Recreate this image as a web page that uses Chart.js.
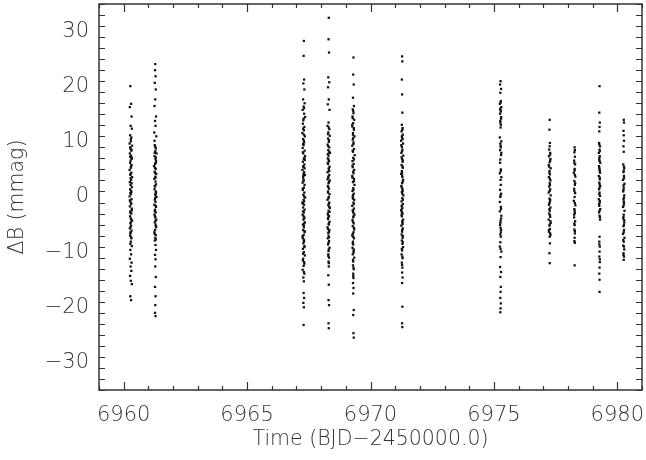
<!DOCTYPE html>
<html>
<head>
<meta charset="utf-8">
<script src="https://cdn.jsdelivr.net/npm/chart.js@4.4.1/dist/chart.umd.min.js"></script>
<style>
  html, body { margin: 0; padding: 0; background: #fff; }
  #wrap { width: 646px; height: 460px; }
</style>
</head>
<body>
<div id="wrap"><canvas id="chart" width="646" height="460"></canvas></div>
<script>
// axis ticks
const xTicks = [6960, 6965, 6970, 6975, 6980];
const yTicks = [-30, -20, -10, 0, 10, 20, 30];

// photometry, one array per night: [BJD-2450000, dB in mmag]
const night6960 = [[6960.27,20.1],[6960.30,16.9],[6960.25,16.3],[6960.32,14.6],[6960.28,12.9],[6960.33,12.4],[6960.26,11.2],[6960.31,10.8],[6960.29,10.1],[6960.24,9.7],[6960.34,9.3],[6960.27,8.8],[6960.31,8.4],[6960.25,7.9],[6960.30,7.5],[6960.33,7.1],[6960.28,6.6],[6960.26,6.2],[6960.32,5.8],[6960.29,5.3],[6960.24,4.9],[6960.31,4.4],[6960.27,4.0],[6960.34,3.6],[6960.30,3.1],[6960.25,2.7],[6960.28,2.2],[6960.33,1.8],[6960.26,1.4],[6960.31,0.9],[6960.29,0.5],[6960.24,0.1],[6960.32,-0.4],[6960.27,-0.8],[6960.30,-1.3],[6960.25,-1.7],[6960.33,-2.1],[6960.28,-2.6],[6960.31,-3.0],[6960.26,-3.5],[6960.29,-3.9],[6960.34,-4.3],[6960.27,-4.8],[6960.30,-5.2],[6960.25,-5.7],[6960.32,-6.1],[6960.28,-6.6],[6960.26,-7.0],[6960.31,-7.5],[6960.29,-8.1],[6960.33,-8.9],[6960.27,-9.6],[6960.30,-10.4],[6960.25,-11.2],[6960.32,-11.9],[6960.28,-12.6],[6960.31,-13.4],[6960.26,-14.3],[6960.29,-15.2],[6960.33,-15.8],[6960.27,-18.0],[6960.30,-18.7],[6960.26,9.0],[6960.32,6.9],[6960.28,3.4],[6960.30,1.1],[6960.25,-0.6],[6960.33,-2.4],[6960.29,-4.6],[6960.27,-6.4],
  [6960.29,10.5],[6960.31,8.6],[6960.26,7.3],[6960.30,5.6],[6960.28,4.2],[6960.32,2.5],[6960.27,0.7],[6960.30,-1.1],[6960.26,-2.8],[6960.31,-4.1],[6960.28,-5.5],[6960.30,-7.3],[6960.27,-8.5]];
const night6961 = [[6961.28,24.1],[6961.27,23.0],[6961.29,21.9],[6961.26,20.7],[6961.30,19.5],[6961.28,17.7],[6961.25,16.5],[6961.31,14.6],[6961.27,13.8],[6961.29,12.9],[6961.24,11.7],[6961.32,11.0],[6961.26,9.4],[6961.30,8.8],[6961.28,8.3],[6961.33,7.9],[6961.25,7.4],[6961.29,6.9],[6961.31,6.5],[6961.27,6.0],[6961.23,5.6],[6961.30,5.1],[6961.26,4.6],[6961.32,4.2],[6961.28,3.7],[6961.24,3.3],[6961.29,2.8],[6961.31,2.3],[6961.27,1.9],[6961.25,1.4],[6961.30,1.0],[6961.28,0.5],[6961.33,0.0],[6961.26,-0.5],[6961.29,-0.9],[6961.24,-1.4],[6961.31,-1.8],[6961.27,-2.3],[6961.30,-2.8],[6961.25,-3.2],[6961.28,-3.7],[6961.32,-4.1],[6961.26,-4.6],[6961.29,-5.0],[6961.31,-5.5],[6961.27,-6.0],[6961.24,-6.4],[6961.30,-6.9],[6961.28,-7.4],[6961.26,-7.9],[6961.29,-8.7],[6961.31,-9.6],[6961.27,-10.5],[6961.29,-11.3],[6961.28,-12.6],[6961.30,-14.5],[6961.27,-16.3],[6961.29,-18.0],[6961.28,-19.6],[6961.27,-21.0],[6961.29,-21.6],[6961.25,10.2],[6961.30,7.2],[6961.27,4.4],[6961.29,0.3],[6961.26,-2.6],[6961.31,-5.3],
  [6961.28,9.1],[6961.26,8.0],[6961.30,6.2],[6961.27,5.3],[6961.29,3.5],[6961.26,2.0],[6961.31,0.8],[6961.28,-0.2],[6961.30,-1.6],[6961.27,-3.5],[6961.29,-4.3],[6961.26,-6.7],[6961.30,-7.7]];
const night6967 = [[6967.30,28.3],[6967.29,25.6],[6967.31,21.3],[6967.28,20.6],[6967.32,19.5],[6967.27,17.7],[6967.33,17.0],[6967.29,16.4],[6967.25,15.8],[6967.31,15.1],[6967.35,14.5],[6967.28,13.9],[6967.26,13.3],[6967.32,12.7],[6967.30,12.1],[6967.24,11.6],[6967.34,11.0],[6967.27,10.5],[6967.31,9.9],[6967.29,9.4],[6967.25,8.9],[6967.33,8.4],[6967.28,7.9],[6967.35,7.4],[6967.30,6.9],[6967.26,6.4],[6967.32,5.9],[6967.28,5.4],[6967.24,4.9],[6967.31,4.5],[6967.34,4.0],[6967.27,3.5],[6967.29,3.1],[6967.25,2.6],[6967.33,2.2],[6967.30,1.7],[6967.26,1.3],[6967.32,0.8],[6967.28,0.4],[6967.35,-0.1],[6967.29,-0.5],[6967.24,-1.0],[6967.31,-1.4],[6967.27,-1.9],[6967.33,-2.3],[6967.30,-2.8],[6967.25,-3.2],[6967.32,-3.7],[6967.28,-4.1],[6967.34,-4.6],[6967.26,-5.0],[6967.30,-5.5],[6967.27,-6.0],[6967.33,-6.4],[6967.29,-6.9],[6967.25,-7.4],[6967.31,-7.9],[6967.28,-8.4],[6967.32,-8.9],[6967.26,-9.4],[6967.30,-10.0],[6967.34,-10.6],[6967.27,-11.2],[6967.31,-11.8],[6967.29,-12.5],[6967.25,-13.2],[6967.32,-13.9],[6967.28,-14.6],[6967.30,-15.3],[6967.29,-17.4],[6967.31,-18.3],[6967.28,-19.2],[6967.30,-20.0],[6967.29,-23.2],[6967.26,8.1],[6967.33,5.2],[6967.29,2.9],[6967.31,0.1],[6967.27,-2.6],[6967.30,-5.2],[6967.25,-7.1],[6967.32,-9.1],[6967.28,3.8],[6967.34,6.7],[6967.26,-1.2],[6967.31,-3.9],
  [6967.30,11.3],[6967.27,9.6],[6967.32,7.1],[6967.29,4.2],[6967.26,1.5],[6967.31,-0.8],[6967.28,-3.4],[6967.33,-6.2],[6967.30,-8.1],[6967.27,-10.3],[6967.32,-12.1],[6967.29,14.2],[6967.31,16.1],[6967.27,12.4],[6967.30,10.2],[6967.28,5.6],[6967.31,-4.8],[6967.29,-7.7],[6967.26,-11.5],[6967.30,-13.6]];
const night6968 = [[6968.31,32.5],[6968.30,28.6],[6968.32,26.2],[6968.29,21.7],[6968.33,20.8],[6968.28,19.9],[6968.31,17.7],[6968.27,16.8],[6968.34,15.8],[6968.30,13.5],[6968.26,12.9],[6968.33,12.3],[6968.29,11.7],[6968.35,11.1],[6968.28,10.6],[6968.31,10.0],[6968.26,9.5],[6968.33,9.0],[6968.29,8.5],[6968.36,8.0],[6968.30,7.5],[6968.27,7.0],[6968.32,6.5],[6968.28,6.0],[6968.34,5.5],[6968.31,5.0],[6968.26,4.5],[6968.33,4.0],[6968.29,3.5],[6968.35,3.0],[6968.30,2.5],[6968.27,2.0],[6968.32,1.5],[6968.28,1.0],[6968.34,0.5],[6968.31,0.0],[6968.26,-0.5],[6968.33,-1.0],[6968.29,-1.5],[6968.35,-2.0],[6968.30,-2.5],[6968.27,-3.0],[6968.32,-3.5],[6968.28,-4.0],[6968.34,-4.5],[6968.31,-5.0],[6968.26,-5.5],[6968.33,-6.0],[6968.29,-6.5],[6968.30,-7.0],[6968.27,-7.5],[6968.32,-8.0],[6968.28,-8.6],[6968.34,-9.2],[6968.30,-9.8],[6968.29,-10.4],[6968.32,-11.0],[6968.30,-11.7],[6968.31,-12.6],[6968.29,-14.2],[6968.31,-15.9],[6968.30,-18.7],[6968.32,-19.6],[6968.30,-22.9],[6968.31,-23.8],[6968.27,7.8],[6968.33,4.7],[6968.29,1.8],[6968.31,-1.2],[6968.28,-3.8],[6968.32,-6.3],[6968.34,-2.7],[6968.26,3.2],
  [6968.31,12.6],[6968.28,11.4],[6968.32,10.3],[6968.29,9.2],[6968.33,8.2],[6968.30,6.8],[6968.27,6.2],[6968.31,5.2],[6968.29,3.7],[6968.32,2.7],[6968.28,0.8],[6968.30,-0.2],[6968.33,-1.8],[6968.29,-3.3],[6968.31,-4.8],[6968.28,-5.8],[6968.32,-7.3],[6968.30,-8.3],[6968.31,-9.5],[6968.29,-10.7],[6968.31,-12.0]];
const night6969 = [[6969.31,25.3],[6969.30,22.2],[6969.32,20.4],[6969.29,18.0],[6969.33,16.5],[6969.28,15.9],[6969.31,15.2],[6969.27,14.6],[6969.34,14.0],[6969.30,13.4],[6969.26,12.8],[6969.33,12.2],[6969.29,11.6],[6969.35,11.0],[6969.28,10.4],[6969.31,9.9],[6969.26,9.3],[6969.33,8.7],[6969.29,8.2],[6969.36,7.6],[6969.30,7.1],[6969.27,6.5],[6969.32,6.0],[6969.28,5.4],[6969.34,4.9],[6969.31,4.3],[6969.26,3.8],[6969.33,3.3],[6969.29,2.7],[6969.35,2.2],[6969.30,1.6],[6969.27,1.1],[6969.32,0.6],[6969.28,0.0],[6969.34,-0.5],[6969.31,-1.0],[6969.26,-1.6],[6969.33,-2.1],[6969.29,-2.6],[6969.35,-3.2],[6969.30,-3.7],[6969.27,-4.2],[6969.32,-4.8],[6969.28,-5.3],[6969.34,-5.9],[6969.31,-6.4],[6969.26,-7.0],[6969.33,-7.5],[6969.29,-8.1],[6969.30,-8.6],[6969.27,-9.2],[6969.32,-9.8],[6969.28,-10.4],[6969.34,-11.0],[6969.30,-11.7],[6969.29,-12.4],[6969.32,-13.1],[6969.30,-13.9],[6969.31,-14.7],[6969.29,-15.6],[6969.31,-16.5],[6969.30,-17.5],[6969.32,-20.5],[6969.30,-21.4],[6969.31,-24.7],[6969.32,-25.5],[6969.27,5.7],[6969.33,2.9],[6969.29,-0.3],[6969.31,-2.9],[6969.28,-6.7],[6969.32,-9.5],[6969.30,10.7],[6969.26,13.1],
  [6969.30,15.6],[6969.28,14.3],[6969.32,12.5],[6969.29,11.3],[6969.31,9.6],[6969.28,8.4],[6969.33,6.8],[6969.30,4.6],[6969.27,3.5],[6969.31,1.3],[6969.29,0.3],[6969.32,-1.3],[6969.28,-2.4],[6969.31,-3.5],[6969.29,-4.5],[6969.33,-5.6],[6969.30,-7.2],[6969.28,-8.4],[6969.31,-10.1],[6969.29,-11.4],[6969.31,-12.8],[6969.30,-14.3]];
const night6971 = [[6971.28,25.5],[6971.29,24.6],[6971.27,21.3],[6971.28,18.6],[6971.29,15.3],[6971.27,13.1],[6971.30,12.5],[6971.26,11.9],[6971.31,11.3],[6971.28,10.8],[6971.24,10.2],[6971.32,9.7],[6971.27,9.1],[6971.29,8.6],[6971.25,8.0],[6971.33,7.5],[6971.28,6.9],[6971.30,6.4],[6971.26,5.8],[6971.31,5.3],[6971.27,4.7],[6971.24,4.2],[6971.29,3.6],[6971.32,3.1],[6971.28,2.5],[6971.25,2.0],[6971.30,1.4],[6971.27,0.9],[6971.33,0.3],[6971.29,-0.2],[6971.26,-0.8],[6971.31,-1.3],[6971.28,-1.9],[6971.24,-2.4],[6971.30,-3.0],[6971.27,-3.5],[6971.32,-4.1],[6971.29,-4.6],[6971.25,-5.2],[6971.31,-5.7],[6971.28,-6.3],[6971.26,-6.8],[6971.30,-7.4],[6971.27,-7.9],[6971.29,-8.5],[6971.32,-9.1],[6971.28,-9.7],[6971.26,-10.4],[6971.30,-11.1],[6971.27,-11.9],[6971.29,-12.8],[6971.28,-13.7],[6971.30,-14.6],[6971.28,-15.6],[6971.29,-19.9],[6971.28,-22.9],[6971.29,-23.6],[6971.25,9.4],[6971.31,6.6],[6971.28,3.9],[6971.30,1.1],[6971.26,-1.6],[6971.29,-4.4],[6971.31,-7.1],[6971.27,-2.7],
  [6971.29,12.2],[6971.27,11.0],[6971.30,10.5],[6971.28,8.3],[6971.26,7.2],[6971.30,5.5],[6971.28,4.4],[6971.31,2.8],[6971.27,1.7],[6971.29,0.6],[6971.31,-0.5],[6971.28,-2.1],[6971.26,-3.2],[6971.30,-4.9],[6971.28,-6.0],[6971.31,-8.2],[6971.27,-9.4],[6971.29,-10.8],[6971.28,-12.3]];
const night6975 = [[6975.27,21.0],[6975.25,20.4],[6975.29,19.6],[6975.26,18.9],[6975.28,17.4],[6975.24,16.9],[6975.30,16.3],[6975.27,15.8],[6975.25,15.1],[6975.29,14.5],[6975.26,13.8],[6975.28,13.1],[6975.24,10.8],[6975.30,10.1],[6975.27,9.3],[6975.25,8.5],[6975.29,7.6],[6975.26,6.8],[6975.28,5.0],[6975.24,4.3],[6975.30,3.6],[6975.27,3.1],[6975.25,1.3],[6975.29,0.6],[6975.26,0.0],[6975.28,-1.8],[6975.24,-2.6],[6975.30,-3.4],[6975.27,-4.3],[6975.25,-5.1],[6975.29,-6.0],[6975.26,-6.8],[6975.28,-7.2],[6975.24,-9.0],[6975.30,-9.9],[6975.27,-10.9],[6975.25,-12.7],[6975.29,-13.6],[6975.26,-14.5],[6975.28,-16.3],[6975.27,-17.2],[6975.26,-18.3],[6975.28,-19.3],[6975.27,-20.2],[6975.26,-20.9],[6975.25,16.0],[6975.29,14.2],[6975.27,12.6],[6975.26,9.7],[6975.30,8.0],[6975.28,2.2],[6975.24,-0.9],[6975.29,-3.9],[6975.27,-5.6],[6975.26,-8.2],
  [6975.27,17.1],[6975.28,15.5],[6975.26,13.5],[6975.28,9.0],[6975.25,6.2],[6975.28,4.7],[6975.27,0.3],[6975.29,-2.2],[6975.26,-4.7],[6975.28,-6.4],[6975.27,-9.4]];
const night6977 = [[6977.26,14.0],[6977.25,12.2],[6977.27,9.8],[6977.24,8.6],[6977.28,8.0],[6977.23,7.4],[6977.29,6.9],[6977.26,6.3],[6977.22,5.8],[6977.30,5.2],[6977.25,4.7],[6977.27,4.1],[6977.23,3.6],[6977.29,3.0],[6977.26,2.5],[6977.24,1.9],[6977.28,1.4],[6977.22,0.8],[6977.30,0.3],[6977.25,-0.3],[6977.27,-0.8],[6977.23,-1.4],[6977.29,-1.9],[6977.26,-2.5],[6977.24,-3.0],[6977.28,-3.6],[6977.22,-4.1],[6977.30,-4.7],[6977.25,-5.2],[6977.27,-5.8],[6977.23,-6.3],[6977.29,-6.9],[6977.26,-7.2],[6977.27,-8.4],[6977.25,-10.2],[6977.26,-12.0],[6977.28,7.7],[6977.24,5.5],[6977.27,2.2],[6977.25,-1.1],[6977.29,-4.4],[6977.23,-6.0],
  [6977.26,9.2],[6977.28,6.6],[6977.25,4.4],[6977.27,3.3],[6977.26,1.1],[6977.28,-0.5],[6977.25,-2.2],[6977.27,-3.3],[6977.26,-5.0],[6977.28,-6.6]];
const night6978 = [[6978.27,9.0],[6978.26,8.1],[6978.28,7.3],[6978.25,6.6],[6978.29,5.9],[6978.27,5.1],[6978.24,4.4],[6978.30,3.7],[6978.26,2.9],[6978.28,2.2],[6978.25,1.5],[6978.29,0.7],[6978.27,0.0],[6978.24,-0.7],[6978.30,-1.5],[6978.26,-2.2],[6978.28,-2.9],[6978.25,-3.7],[6978.29,-4.4],[6978.27,-5.1],[6978.26,-5.9],[6978.28,-6.6],[6978.27,-7.4],[6978.28,-8.3],[6978.27,-12.4],[6978.26,-8.0],[6978.28,4.0],[6978.25,-3.2],
  [6978.28,8.5],[6978.26,6.2],[6978.27,4.8],[6978.29,2.5],[6978.26,1.1],[6978.28,-1.1],[6978.27,-2.5],[6978.26,-4.8],[6978.28,-6.2]];
const night6979 = [[6979.28,20.1],[6979.27,15.3],[6979.29,13.5],[6979.28,12.7],[6979.27,11.9],[6979.26,9.8],[6979.30,9.2],[6979.28,8.6],[6979.25,8.0],[6979.29,7.4],[6979.27,6.8],[6979.31,6.2],[6979.26,5.6],[6979.28,5.0],[6979.30,4.4],[6979.25,3.8],[6979.29,3.2],[6979.27,2.6],[6979.31,2.0],[6979.26,1.4],[6979.28,0.8],[6979.30,0.2],[6979.25,-0.4],[6979.29,-1.0],[6979.27,-1.6],[6979.31,-2.2],[6979.26,-2.8],[6979.28,-3.4],[6979.30,-4.1],[6979.28,-7.2],[6979.27,-8.1],[6979.29,-9.0],[6979.28,-9.9],[6979.27,-10.8],[6979.29,-11.8],[6979.28,-12.8],[6979.27,-13.9],[6979.28,-15.0],[6979.28,-17.2],[6979.27,7.1],[6979.29,4.7],[6979.28,1.7],[6979.26,-1.3],[6979.30,-3.7],
  [6979.27,9.5],[6979.29,8.3],[6979.28,6.5],[6979.27,5.3],[6979.29,3.5],[6979.28,2.3],[6979.27,0.5],[6979.29,-0.7],[6979.28,-2.5],[6979.27,-8.6],[6979.29,-11.3]];
const night6980 = [[6980.26,14.0],[6980.27,13.5],[6980.25,12.0],[6980.26,11.2],[6980.27,10.2],[6980.25,9.2],[6980.26,8.2],[6980.24,5.9],[6980.28,5.2],[6980.25,4.5],[6980.27,3.8],[6980.23,3.1],[6980.29,2.4],[6980.26,1.7],[6980.24,1.0],[6980.28,0.3],[6980.25,-0.4],[6980.27,-1.1],[6980.23,-1.8],[6980.29,-2.5],[6980.26,-3.2],[6980.24,-3.9],[6980.28,-4.6],[6980.25,-5.3],[6980.27,-6.0],[6980.23,-6.7],[6980.29,-7.4],[6980.26,-8.1],[6980.24,-8.8],[6980.28,-9.5],[6980.25,-10.2],[6980.27,-10.8],[6980.26,-11.4],[6980.27,5.5],[6980.25,2.1],[6980.26,-0.8],[6980.28,-4.2],[6980.24,-7.8],
  [6980.26,4.8],[6980.27,3.4],[6980.25,1.3],[6980.27,-0.1],[6980.26,-1.5],[6980.25,-3.6],[6980.27,-5.0],[6980.26,-6.4],[6980.27,-9.0],[6980.25,-10.5]];

const nights = [night6960, night6961, night6967, night6968, night6969, night6971,
                night6975, night6977, night6978, night6979, night6980];

const X_MIN = 6959, X_MAX = 6981, X_MINOR = 1;
const Y_MIN = -35, Y_MAX = 35, Y_MINOR = 2;

const INK = '#333';
const FONT = "'DejaVu Sans', sans-serif";

// IDL-style box: full frame with inward major/minor ticks on every side
const boxPlugin = {
  id: 'box',
  afterDatasetsDraw(chart) {
    const { ctx, chartArea: a, scales } = chart;
    const xs = scales.x, ys = scales.y;
    ctx.save();
    ctx.strokeStyle = INK;
    ctx.lineWidth = 1.2;
    ctx.beginPath();
    for (let v = X_MIN; v <= X_MAX; v += X_MINOR) {
      const px = Math.round(xs.getPixelForValue(v)) + 0.5;
      const len = xTicks.includes(v) ? 8 : 4;
      ctx.moveTo(px, a.bottom); ctx.lineTo(px, a.bottom - len);
      ctx.moveTo(px, a.top); ctx.lineTo(px, a.top + len);
    }
    for (let v = Y_MIN; v <= Y_MAX; v += Y_MINOR) {
      const py = Math.round(ys.getPixelForValue(v)) + 0.5;
      const len = yTicks.includes(v) ? 11 : 6;
      ctx.moveTo(a.left, py); ctx.lineTo(a.left + len, py);
      ctx.moveTo(a.right, py); ctx.lineTo(a.right - len, py);
    }
    ctx.stroke();
    ctx.lineWidth = 1.5;
    ctx.strokeRect(a.left, a.top, a.right - a.left, a.bottom - a.top);
    ctx.restore();
  }
};

const points = [];
nights.forEach(n => n.forEach(p => points.push({ x: p[0], y: p[1] })));

// keep the plot box fixed: no extra room for end labels
function noEdgePadding(s) {
  s.paddingLeft = 0; s.paddingRight = 0; s.paddingTop = 0; s.paddingBottom = 0;
}

new Chart(document.getElementById('chart'), {
  type: 'scatter',
  data: {
    datasets: [{
      data: points,
      pointStyle: 'rect',
      pointRadius: 1.6,
      pointBorderWidth: 0,
      backgroundColor: '#111',
      borderColor: '#111'
    }]
  },
  options: {
    responsive: false,
    animation: false,
    devicePixelRatio: 1,
    layout: { padding: { left: 0, right: 3, top: 4, bottom: 0 } },
    plugins: { legend: { display: false }, tooltip: { enabled: false } },
    scales: {
      x: {
        type: 'linear',
        min: X_MIN, max: X_MAX,
        grid: { display: false, drawTicks: false },
        border: { display: false },
        afterBuildTicks: s => { s.ticks = xTicks.map(v => ({ value: v })); },
        afterFit: s => { s.height = 70; noEdgePadding(s); },
        ticks: {
          color: INK, padding: 13, maxRotation: 0,
          font: { family: FONT, size: 21, weight: '200' },
          callback: v => String(v)
        },
        title: {
          display: true, text: 'Time (BJD\u22122450000.0)', color: INK,
          font: { family: FONT, size: 20.5, weight: '200' }, padding: { top: 0, bottom: 8 }
        }
      },
      y: {
        type: 'linear',
        min: Y_MIN, max: Y_MAX,
        grid: { display: false, drawTicks: false },
        border: { display: false },
        afterBuildTicks: s => { s.ticks = yTicks.map(v => ({ value: v })); },
        afterFit: s => { s.width = 99; noEdgePadding(s); },
        ticks: {
          color: INK, padding: 10,
          font: { family: FONT, size: 21, weight: '200' },
          callback: v => (v < 0 ? '\u2212' + Math.abs(v) : String(v))
        },
        title: {
          display: true, text: '\u0394B (mmag)', color: INK,
          font: { family: FONT, size: 20.5, weight: '200' }, padding: { top: 5, bottom: 0 }
        }
      }
    }
  },
  plugins: [boxPlugin]
});
</script>
</body>
</html>
